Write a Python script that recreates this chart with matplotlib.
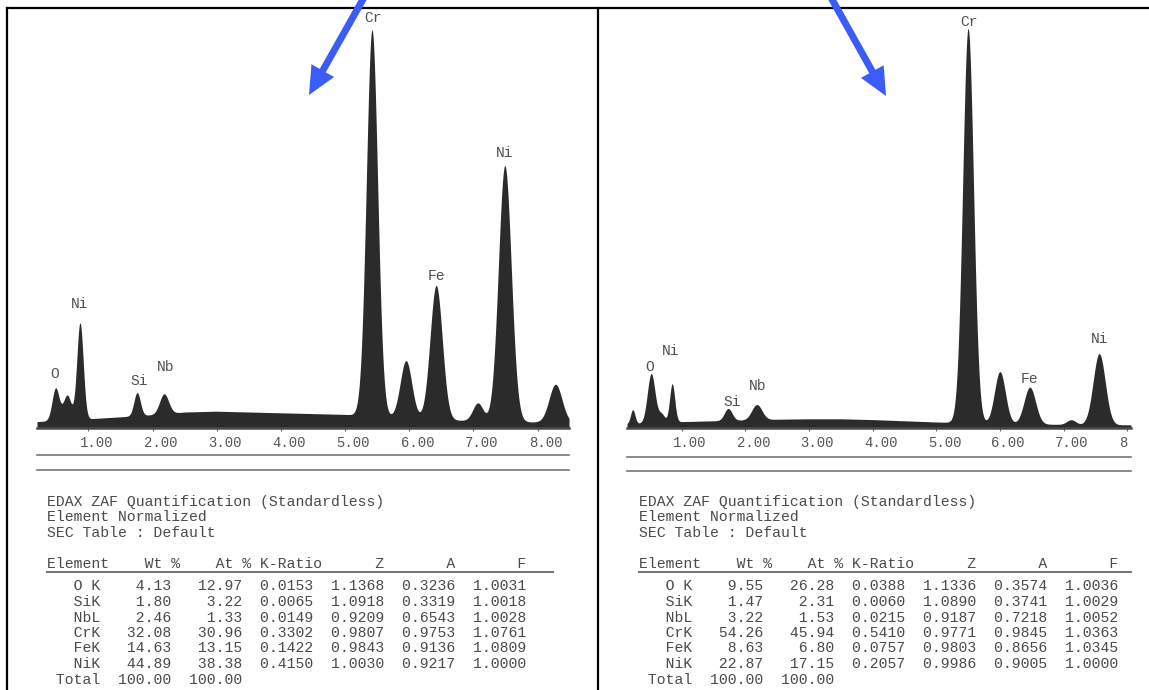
import numpy as np
import matplotlib
matplotlib.use("Agg")
import matplotlib.pyplot as plt
from matplotlib.patches import FancyArrow

W, H = 1149, 690
MONO = "Liberation Mono"
INK = "#4a4a4a"

# ---- spectra (intensity scaled so the Cr K-alpha peak = 100) ----
left_bg_kev = [0.2, 0.4, 0.6, 1.0, 1.5, 2.0, 2.5, 3.0, 3.5, 4.0, 4.5, 5.0, 5.5, 6.0, 6.5, 7.0, 7.5, 8.0, 8.5]
left_bg = [1.6, 1.8, 2.2, 2.3, 2.8, 3.3, 4.0, 4.2, 4.0, 3.8, 3.6, 3.4, 3.0, 2.5, 2.1, 1.8, 1.6, 1.5, 1.4]
left_peak_kev = [0.49, 0.67, 0.87, 1.76, 2.18, 5.42, 5.95, 6.42, 7.07, 7.49, 8.28]
left_peak_h = [8.0, 6.0, 24.0, 5.8, 5.0, 96.5, 14.3, 33.5, 4.5, 64.0, 9.5]
left_peak_sig = [0.055, 0.06, 0.05, 0.05, 0.07, 0.088, 0.09, 0.095, 0.08, 0.1, 0.1]
left_lbl = ["O", "Ni", "Si", "Nb", "Cr", "Fe", "Ni"]
left_lbl_x = [0.48, 0.87, 1.79, 2.21, 5.44, 6.43, 7.49]
left_lbl_y = [13.5, 31.0, 11.75, 15.25, 102.5, 38.0, 68.75]

right_bg_kev = [0.13, 0.4, 0.7, 1.0, 1.5, 2.0, 2.5, 3.0, 3.5, 4.0, 4.5, 5.0, 5.5, 6.0, 6.5, 7.0, 7.5, 8.1]
right_bg = [1.0, 1.2, 1.5, 1.6, 1.8, 2.0, 2.2, 2.3, 2.3, 2.1, 1.8, 1.5, 1.3, 1.1, 1.0, 0.9, 0.8, 0.8]
right_peak_kev = [0.23, 0.52, 0.68, 0.85, 1.73, 2.18, 5.50, 6.00, 6.47, 7.12, 7.56]
right_peak_h = [3.5, 12.3, 2.0, 9.5, 3.0, 3.8, 98.6, 13.0, 9.2, 1.2, 17.8]
right_peak_sig = [0.035, 0.06, 0.05, 0.04, 0.06, 0.08, 0.085, 0.085, 0.09, 0.07, 0.095]
right_lbl = ["O", "Ni", "Si", "Nb", "Cr", "Fe", "Ni"]
right_lbl_x = [0.49, 0.82, 1.79, 2.20, 5.51, 6.47, 7.56]
right_lbl_y = [15.3, 19.3, 6.6, 10.5, 101.5, 12.25, 22.2]

tick_kev = [1, 2, 3, 4, 5, 6, 7, 8]
left_tick_txt = ["1.00", "2.00", "3.00", "4.00", "5.00", "6.00", "7.00", "8.00"]
# the right scan is cut at the frame edge, only the "8" of the last label shows
right_tick_txt = ["1.00", "2.00", "3.00", "4.00", "5.00", "6.00", "7.00", "8"]

# ---- quantification tables ----
elements = ["O K", "SiK", "NbL", "CrK", "FeK", "NiK"]
left_wt = [4.13, 1.80, 2.46, 32.08, 14.63, 44.89]
left_at = [12.97, 3.22, 1.33, 30.96, 13.15, 38.38]
left_kr = [0.0153, 0.0065, 0.0149, 0.3302, 0.1422, 0.4150]
left_z = [1.1368, 1.0918, 0.9209, 0.9807, 0.9843, 1.0030]
left_a = [0.3236, 0.3319, 0.6543, 0.9753, 0.9136, 0.9217]
left_f = [1.0031, 1.0018, 1.0028, 1.0761, 1.0809, 1.0000]

right_wt = [9.55, 1.47, 3.22, 54.26, 8.63, 22.87]
right_at = [26.28, 2.31, 1.53, 45.94, 6.80, 17.15]
right_kr = [0.0388, 0.0060, 0.0215, 0.5410, 0.0757, 0.2057]
right_z = [1.1336, 1.0890, 0.9187, 0.9771, 0.9803, 0.9986]
right_a = [0.3574, 0.3741, 0.7218, 0.9845, 0.8656, 0.9005]
right_f = [1.0036, 1.0029, 1.0052, 1.0363, 1.0345, 1.0000]


def px_axes(fig, x0, y0, x1, y1):
    return fig.add_axes([x0 / W, 1 - y1 / H, (x1 - x0) / W, (y1 - y0) / H])


def draw_spectrum(ax, xlim, bg_kev, bg, pk_kev, pk_h, pk_sig, lbl, lbl_x, lbl_y, tick_txt):
    e = np.linspace(xlim[0], xlim[1], 3000)
    y = np.interp(e, bg_kev, bg)
    for c, h, s in zip(pk_kev, pk_h, pk_sig):
        y = y + h * np.exp(-0.5 * ((e - c) / s) ** 2)
    ax.fill_between(e, 0, y, color="#2b2b2b", lw=0)
    ax.set_xlim(*xlim)
    ax.set_ylim(0, 102)
    ax.patch.set_visible(False)
    for s in ["top", "left", "right"]:
        ax.spines[s].set_visible(False)
    ax.spines["bottom"].set_color("#4a4a4a")
    ax.spines["bottom"].set_linewidth(1.8)
    ax.set_yticks([])
    ax.set_xticks(tick_kev)
    ax.tick_params(axis="x", direction="out", length=2.5, width=0.8, color="#666666", labelbottom=False)
    for v, t in zip(tick_kev, tick_txt):
        # labels sit slightly right of their tick, as on the instrument printout
        dx = 8.2 - (4 - len(t)) * 4.1
        ax.annotate(t, xy=(v, 0), xycoords=("data", "axes fraction"),
                    xytext=(dx * 0.72, -15 * 0.72), textcoords="offset points",
                    ha="center", va="center", fontsize=10, family=MONO, color="#555555",
                    annotation_clip=False)
    for t, x, yy in zip(lbl, lbl_x, lbl_y):
        ax.text(x, yy, t, ha="center", va="center", fontsize=10.5, family=MONO, color="#505050")


def draw_table(bg_ax, x0, wt, at, kr, z, a, f, line_end):
    head = ["EDAX ZAF Quantification (Standardless)", "Element Normalized", "SEC Table : Default"]
    for i, line in enumerate(head):
        bg_ax.text(x0, 502 + 15.3 * i, line, family=MONO, fontsize=10.6, color=INK, va="center", ha="left")
    bg_ax.text(x0, 563.5, "Element    Wt %    At % K-Ratio      Z       A       F",
               family=MONO, fontsize=10.6, color=INK, va="center", ha="left")
    bg_ax.plot([x0, line_end], [571.5, 571.5], color="#666666", lw=1.3)
    for i, el in enumerate(elements):
        row = f"{el:>6}{wt[i]:>8.2f}{at[i]:>8.2f}{kr[i]:>8.4f}{z[i]:>8.4f}{a[i]:>8.4f}{f[i]:>8.4f}"
        bg_ax.text(x0, 586.5 + 15.5 * i, row, family=MONO, fontsize=10.6, color=INK, va="center", ha="left")
    total = f"{'Total':>6}{100:>8.2f}{100:>8.2f}"
    bg_ax.text(x0, 586.5 + 15.5 * 6, total, family=MONO, fontsize=10.6, color=INK, va="center", ha="left")


def main():
    fig = plt.figure(figsize=(W / 100, H / 100), dpi=100)
    fig.patch.set_facecolor("white")

    bg = fig.add_axes([0, 0, 1, 1])
    bg.set_xlim(0, W)
    bg.set_ylim(H, 0)
    bg.axis("off")

    # frame lines of the two panels
    bg.plot([7, W], [8, 8], color="black", lw=1.6)
    bg.plot([7, 7], [8, H], color="black", lw=1.6)
    bg.plot([598, 598], [8, H], color="black", lw=1.6)

    # rules under the energy axes
    for y in (455, 470):
        bg.plot([37, 569], [y, y], color="#777777", lw=1.2)
    for y in (457, 471):
        bg.plot([627, 1131], [y, y], color="#777777", lw=1.2)

    ax_l = px_axes(fig, 37, 20, 569, 428)
    draw_spectrum(ax_l, (0.2, 8.49), left_bg_kev, left_bg, left_peak_kev, left_peak_h,
                  left_peak_sig, left_lbl, left_lbl_x, left_lbl_y, left_tick_txt)
    ax_r = px_axes(fig, 627, 20, 1131, 428)
    draw_spectrum(ax_r, (0.14, 8.06), right_bg_kev, right_bg, right_peak_kev, right_peak_h,
                  right_peak_sig, right_lbl, right_lbl_x, right_lbl_y, right_tick_txt)

    draw_table(bg, 46.7, left_wt, left_at, left_kr, left_z, left_a, left_f, 553)
    draw_table(bg, 639, right_wt, right_at, right_kr, right_z, right_a, right_f, 1131)

    # blue arrows pointing at the spectra
    blue = "#3b5cf6"
    for (x0, y0), (x1, y1) in [((366, -6), (309, 95)), ((829, -6), (886, 96))]:
        bg.add_patch(FancyArrow(x0, y0, x1 - x0, y1 - y0, width=7, head_width=26, head_length=28,
                                length_includes_head=True, color=blue, lw=0, zorder=5))

    fig.savefig("out.png", dpi=100, facecolor="white")


if __name__ == "__main__":
    main()
